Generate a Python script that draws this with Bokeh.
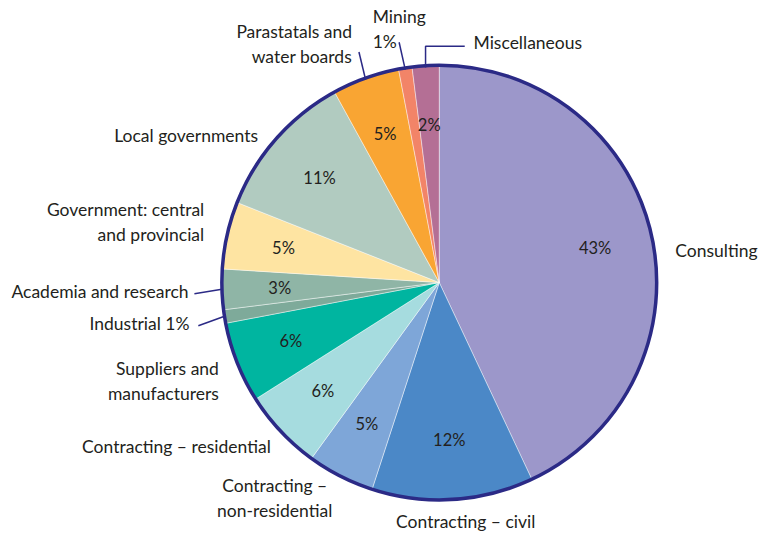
import math
from bokeh.plotting import figure
from bokeh.models import ColumnDataSource, Range1d
from bokeh.core.properties import value
from bokeh.embed import file_html
from bokeh.resources import INLINE

# ---------------- data ----------------
categories = ["Consulting", "Contracting – civil", "Contracting – non-residential",
              "Contracting – residential", "Suppliers and manufacturers", "Industrial",
              "Academia and research", "Government: central and provincial",
              "Local governments", "Parastatals and water boards", "Mining", "Miscellaneous"]
shares = [43, 12, 5, 6, 6, 1, 3, 5, 11, 5, 1, 2]
inner_labels = ["43%", "12%", "5%", "6%", "6%", "", "3%", "5%", "11%", "5%", "", "2%"]
colors = ["#9c97ca", "#4b88c7", "#7ea6d8", "#a6dcdf", "#00b5a0", "#7eaa9a",
          "#8fb5a6", "#fee4a2", "#b1cbc0", "#f9a533", "#f28468", "#b46f95"]

# outer label texts
outer_texts = ["Consulting", "Contracting – civil", "Contracting –\nnon-residential",
               "Contracting – residential", "Suppliers and\nmanufacturers", "Industrial 1%",
               "Academia and research", "Government: central\nand provincial",
               "Local governments", "Parastatals and\nwater boards", "Mining\n1%", "Miscellaneous"]

# ---------------- layout (reference pixel frame 776 x 550, y = -screen_y) ----------------
CX, CY, R = 448, -290.5, 222
INNER_R = 163
NAVY = "#2b2a86"
TXT = "#231f20"
FONT = "Lato"
FS = "17.5px"
FS_IN = "16.5px"

# outer label placement (screen x, screen y, align)
outer_pos = [(689, 258, "left"), (475, 537, "center"), (280, 512, "center"),
             (276, 459, "right"), (223, 392, "right"), (193, 333, "right"),
             (192, 300, "right"), (208, 228, "right"), (263, 139, "right"),
             (359, 45, "right"), (380, 29, "left"), (483, 43, "left")]
# leader outer ends per slice index (screen coords), from label side
leaders = {9: [(366, 53)], 10: [(407, 43)], 11: [(474, 47), (434, 47)],
           6: [(198, 302)], 5: [(202, 335)]}

# ---------------- geometry from data ----------------
total = float(sum(shares))
starts, ends, mids = [], [], []
cum = 0.0
for s in shares:
    a0 = math.pi / 2 - 2 * math.pi * cum / total
    cum += s
    a1 = math.pi / 2 - 2 * math.pi * cum / total
    starts.append(a0)
    ends.append(a1)
    mids.append((a0 + a1) / 2)

src = ColumnDataSource(dict(start=starts, end=ends, color=colors, cat=categories))

p = figure(width=760, height=534, x_range=Range1d(0, 776), y_range=Range1d(-550, 0),
           x_axis_type=None, y_axis_type=None, toolbar_location=None,
           output_backend="svg", min_border=0, outline_line_color=None,
           background_fill_color="white", border_fill_color="white")
p.grid.visible = False

p.wedge(x=CX, y=CY, radius=R, start_angle="start", end_angle="end", direction="clock",
        fill_color="color", line_color="white", line_width=0.8, line_alpha=0.55, source=src)
p.circle(x=[CX], y=[CY], radius=R, fill_color=None, line_color=NAVY, line_width=3.5)

# inner percentage labels
ix = [CX + INNER_R * math.cos(m) for m in mids]
iy = [CY + INNER_R * math.sin(m) for m in mids]
p.text(x=ix, y=iy, text=inner_labels, text_font=value(FONT), text_font_size=FS_IN,
       text_color=TXT, text_align="center", text_baseline="middle")

# leader lines
xs, ys = [], []
for idx, pts in leaders.items():
    ex = CX + R * math.cos(mids[idx])
    ey = CY + R * math.sin(mids[idx])
    lx = [pt[0] for pt in pts]
    ly = [-pt[1] for pt in pts]
    if idx == 11:
        ex = lx[-1]
    xs.append(lx + [ex])
    ys.append(ly + [ey])
p.multi_line(xs=xs, ys=ys, line_color=NAVY, line_width=1.5)

# outer labels
for txt, (sx, sy, al) in zip(outer_texts, outer_pos):
    p.text(x=[sx], y=[-sy], text=[txt], text_font=value(FONT), text_font_size=FS,
           text_color=TXT, text_align=al, text_baseline="middle", text_line_height=1.2)

open("out.html", "w").write(file_html(p, INLINE))
